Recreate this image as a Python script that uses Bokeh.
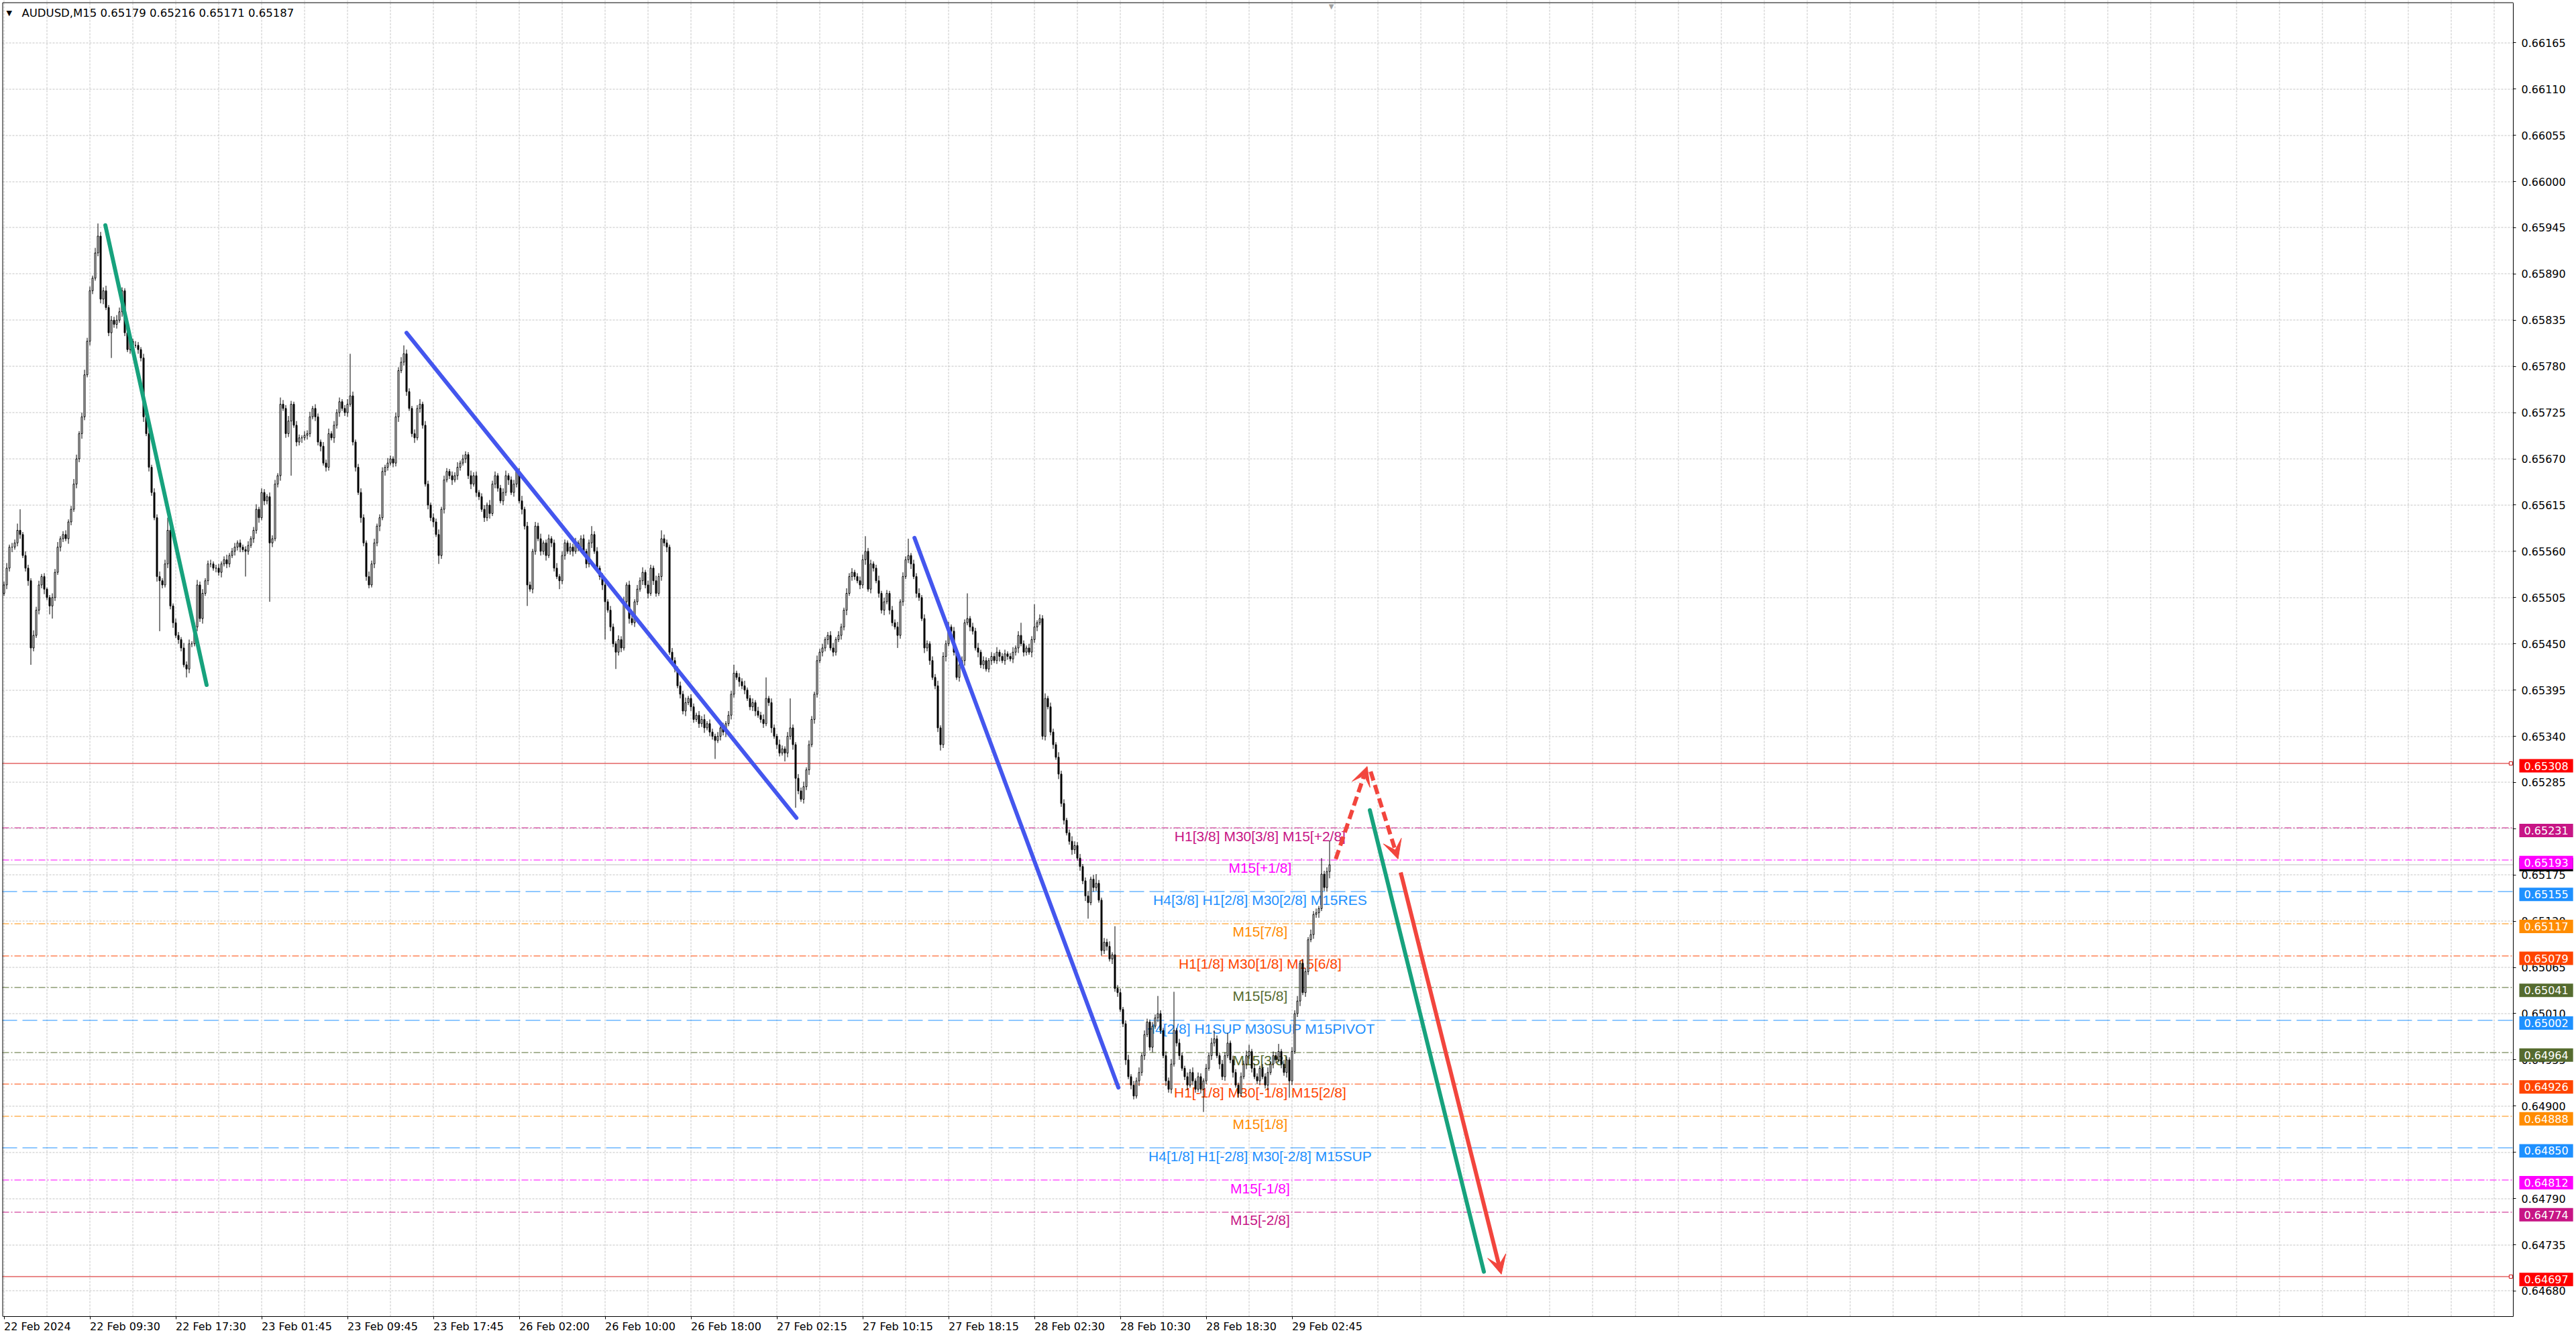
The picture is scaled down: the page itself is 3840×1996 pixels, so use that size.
import numpy as np
from bokeh.plotting import figure
from bokeh.models import Range1d, FixedTicker, PrintfTickFormatter, Label, Arrow, VeeHead, LinearAxis
from bokeh.core.properties import value
from bokeh.embed import file_html
from bokeh.resources import INLINE

# ---------------- data ----------------
header_text = "AUDUSD,M15  0.65179 0.65216 0.65171 0.65187"

# prices in points: 0.6 + v/1e5
first_open = 5510
closes = [
    5520, 5540, 5565, 5565, 5570, 5585, 5580, 5555, 5540, 5525,
    5445, 5460, 5490, 5520, 5530, 5515, 5505, 5495, 5505, 5535,
    5565, 5575, 5580, 5575, 5595, 5610, 5640, 5670, 5700, 5720,
    5770, 5810, 5870, 5885, 5915, 5935, 5860, 5870, 5850, 5820,
    5835, 5830, 5835, 5845, 5870, 5820, 5800, 5810, 5805, 5805,
    5800, 5790, 5720, 5700, 5660, 5630, 5600, 5530, 5525, 5520,
    5545, 5585, 5495, 5475, 5460, 5455, 5445, 5425, 5420, 5450,
    5450, 5470, 5520, 5480, 5510, 5525, 5545, 5545, 5540, 5540,
    5535, 5545, 5550, 5545, 5555, 5560, 5565, 5570, 5565, 5562,
    5560, 5567, 5575, 5585, 5610, 5600, 5630, 5620, 5625, 5570,
    5575, 5640, 5650, 5735, 5730, 5700, 5715, 5735, 5710, 5690,
    5695, 5695, 5698, 5700, 5720, 5730, 5720, 5690, 5685, 5665,
    5660, 5700, 5695, 5710, 5725, 5738, 5730, 5725, 5735, 5745,
    5690, 5660, 5630, 5600, 5570, 5530, 5520, 5545, 5570, 5590,
    5600, 5655, 5660, 5665, 5670, 5665, 5720, 5775, 5785, 5795,
    5750, 5730, 5700, 5695, 5730, 5735, 5710, 5640, 5615, 5600,
    5595, 5580, 5555, 5610, 5645, 5655, 5650, 5645, 5650, 5660,
    5665, 5670, 5675, 5650, 5640, 5650, 5630, 5625, 5610, 5600,
    5615, 5605, 5640, 5650, 5635, 5620, 5630, 5650, 5645, 5630,
    5640, 5655, 5620, 5610, 5590, 5520, 5515, 5560, 5590, 5575,
    5560, 5570, 5555, 5575, 5570, 5540, 5530, 5525, 5555, 5570,
    5560, 5565, 5560, 5570, 5565, 5575, 5560, 5545, 5570, 5580,
    5560, 5540, 5530, 5520, 5500, 5490, 5470, 5450, 5440, 5455,
    5445, 5500, 5520, 5480, 5475, 5500, 5515, 5525, 5535, 5520,
    5510, 5540, 5525, 5510, 5530, 5575, 5570, 5565, 5440, 5430,
    5420, 5400, 5390, 5370, 5380, 5385, 5375, 5360, 5365, 5355,
    5360, 5350, 5355, 5345, 5340, 5335, 5340, 5350, 5345, 5355,
    5365, 5390, 5415, 5410, 5405, 5400, 5395, 5385, 5375, 5380,
    5370, 5365, 5360, 5355, 5385, 5380, 5350, 5340, 5330, 5320,
    5325, 5320, 5340, 5350, 5330, 5290, 5275, 5265, 5280, 5300,
    5330, 5360, 5390, 5430, 5440, 5445, 5455, 5460, 5445, 5440,
    5455, 5460, 5470, 5490, 5510, 5530, 5535, 5530, 5525, 5520,
    5550, 5560, 5515, 5545, 5540, 5525, 5510, 5490, 5500, 5510,
    5490, 5475, 5470, 5460, 5500, 5530, 5550, 5555, 5545, 5530,
    5510, 5505, 5480, 5445, 5450, 5430, 5410, 5400, 5350, 5330,
    5435, 5450, 5470, 5465, 5440, 5410, 5425, 5430, 5475, 5480,
    5470, 5465, 5445, 5440, 5425, 5430, 5420, 5430, 5435, 5430,
    5440, 5435, 5430, 5438, 5435, 5432, 5440, 5445, 5460, 5450,
    5440, 5445, 5440, 5455, 5470, 5475, 5480, 5340, 5385, 5375,
    5345, 5330, 5315, 5295, 5260, 5240, 5225, 5215, 5205, 5210,
    5195, 5185, 5168, 5150, 5142, 5170, 5160, 5165, 5145, 5085,
    5095, 5090, 5075, 5080, 5040, 5035, 5015, 4998, 4955, 4935,
    4925, 4912, 4930, 4940, 4960, 4985, 5000, 4970, 4995, 5005,
    5010, 4990, 4960, 4930, 4920, 4950, 4990, 4975, 4960, 4945,
    4935, 4925, 4940, 4930, 4920, 4935, 4920, 4930, 4945, 4960,
    4975, 4980, 4960, 4950, 4935, 4960, 4975, 4955, 4940, 4925,
    4915, 4935, 4950, 4960, 4965, 4945, 4935, 4930, 4945, 4935,
    4925, 4940, 4950, 4960, 4955, 4965, 4950, 4940, 4955, 4930,
    4965, 5010, 5025, 5070, 5035, 5060, 5098, 5104, 5128, 5130,
    5135, 5176, 5160, 5179, 5187,
]
upper_wick = [
    4, 6, 3, 5, 4, 8, 25, 3, 5, 4,
    3, 6, 4, 5, 3, 4, 2, 3, 5, 4,
    6, 3, 4, 5, 3, 4, 6, 5, 3, 5,
    6, 4, 5, 3, 6, 15, 5, 4, 6, 3,
    5, 4, 6, 5, 4, 3, 5, 4, 3, 5,
    4, 3, 5, 6, 4, 3, 5, 4, 6, 3,
    5, 15, 4, 3, 5, 4, 3, 6, 4, 5,
    3, 5, 6, 4, 5, 3, 4, 5, 3, 4,
    5, 3, 4, 6, 3, 4, 5, 3, 4, 3,
    4, 5, 3, 4, 6, 3, 5, 4, 3, 5,
    4, 5, 3, 8, 5, 4, 6, 4, 3, 5,
    4, 3, 5, 4, 6, 3, 5, 4, 3, 5,
    4, 6, 3, 5, 4, 5, 3, 4, 6, 50,
    5, 3, 4, 5, 4, 3, 6, 4, 5, 3,
    4, 5, 3, 6, 4, 3, 5, 4, 6, 10,
    5, 4, 3, 5, 4, 6, 3, 5, 4, 3,
    5, 4, 6, 3, 5, 4, 3, 5, 4, 6,
    3, 5, 4, 3, 6, 4, 5, 3, 4, 5,
    3, 6, 4, 5, 3, 4, 5, 6, 3, 4,
    5, 3, 4, 6, 3, 5, 4, 3, 5, 4,
    6, 3, 4, 5, 3, 4, 6, 3, 5, 4,
    3, 5, 4, 6, 3, 4, 5, 3, 4, 10,
    4, 5, 3, 4, 6, 3, 5, 4, 3, 5,
    4, 6, 3, 5, 4, 3, 5, 4, 6, 3,
    5, 4, 3, 6, 4, 10, 5, 4, 3, 5,
    4, 3, 5, 4, 6, 3, 5, 4, 3, 5,
    4, 6, 3, 5, 4, 3, 5, 4, 6, 3,
    5, 4, 10, 3, 5, 4, 6, 3, 4, 5,
    3, 5, 4, 6, 25, 3, 5, 4, 3, 6,
    4, 3, 5, 35, 4, 3, 5, 4, 6, 3,
    5, 4, 3, 6, 4, 5, 3, 4, 5, 6,
    3, 5, 4, 3, 6, 4, 5, 3, 4, 5,
    6, 18, 4, 5, 3, 4, 6, 3, 5, 4,
    3, 5, 4, 6, 3, 5, 4, 20, 3, 5,
    4, 6, 3, 5, 4, 3, 5, 4, 6, 3,
    5, 4, 6, 3, 5, 4, 3, 5, 4, 30,
    3, 5, 4, 6, 3, 5, 4, 3, 5, 4,
    6, 3, 4, 5, 3, 4, 6, 3, 5, 15,
    4, 3, 5, 4, 27, 3, 5, 4, 6, 3,
    5, 4, 3, 6, 4, 5, 3, 4, 6, 5,
    4, 5, 3, 4, 6, 3, 5, 11, 4, 3,
    5, 4, 6, 3, 34, 4, 5, 3, 4, 6,
    3, 5, 4, 6, 3, 5, 4, 3, 5, 4,
    21, 4, 3, 5, 4, 6, 46, 3, 5, 4,
    3, 5, 4, 6, 3, 5, 4, 3, 5, 4,
    6, 10, 4, 3, 5, 4, 12, 3, 5, 4,
    3, 5, 4, 6, 8, 3, 5, 4, 3, 5,
    4, 6, 3, 5, 4, 9, 3, 5, 4, 3,
    5, 4, 6, 3, 5, 4, 3, 6, 4, 5,
    3, 19, 4, 5, 29,
]
lower_wick = [
    3, 5, 4, 6, 3, 4, 5, 3, 4, 6,
    20, 4, 3, 5, 4, 6, 3, 10, 15, 4,
    3, 5, 4, 3, 6, 4, 3, 5, 4, 6,
    4, 3, 5, 4, 3, 4, 5, 6, 3, 4,
    30, 4, 5, 3, 6, 4, 3, 5, 4, 3,
    5, 4, 6, 3, 5, 4, 3, 6, 60, 4,
    3, 5, 4, 6, 3, 5, 4, 3, 10, 5,
    4, 3, 5, 4, 6, 3, 5, 4, 3, 5,
    4, 6, 3, 5, 4, 3, 5, 4, 6, 3,
    30, 4, 3, 5, 4, 6, 3, 5, 4, 70,
    5, 3, 4, 6, 3, 5, 4, 65, 3, 5,
    4, 6, 3, 5, 4, 3, 5, 4, 6, 3,
    5, 4, 3, 6, 4, 5, 3, 4, 5, 3,
    4, 5, 3, 6, 4, 5, 4, 3, 5, 4,
    6, 3, 5, 4, 3, 5, 4, 6, 3, 4,
    5, 3, 4, 6, 3, 5, 4, 3, 5, 4,
    6, 3, 10, 4, 5, 3, 4, 6, 3, 5,
    4, 3, 5, 4, 6, 3, 5, 4, 3, 5,
    4, 6, 3, 5, 4, 3, 5, 4, 6, 3,
    5, 4, 3, 6, 4, 25, 3, 5, 4, 3,
    5, 4, 6, 3, 5, 4, 3, 10, 4, 5,
    3, 4, 6, 3, 5, 4, 3, 5, 4, 6,
    3, 5, 4, 6, 45, 3, 5, 4, 20, 4,
    5, 3, 4, 6, 3, 5, 4, 3, 5, 4,
    6, 3, 5, 4, 3, 5, 4, 6, 3, 5,
    4, 3, 5, 4, 6, 3, 5, 4, 3, 5,
    4, 6, 3, 5, 4, 22, 3, 5, 4, 6,
    3, 5, 4, 3, 6, 4, 5, 3, 4, 5,
    6, 3, 4, 5, 3, 4, 6, 3, 5, 4,
    3, 10, 5, 4, 6, 35, 4, 3, 5, 4,
    6, 3, 5, 4, 3, 5, 4, 6, 3, 5,
    4, 3, 5, 4, 6, 3, 5, 4, 3, 5,
    4, 6, 3, 5, 4, 3, 5, 4, 6, 3,
    5, 4, 3, 15, 4, 5, 3, 4, 6, 3,
    5, 4, 3, 6, 4, 5, 3, 4, 5, 7,
    4, 6, 3, 5, 4, 3, 5, 4, 6, 3,
    5, 4, 3, 6, 4, 5, 3, 4, 5, 3,
    4, 6, 3, 5, 4, 3, 5, 4, 6, 3,
    5, 4, 3, 6, 4, 5, 3, 4, 5, 3,
    4, 5, 3, 6, 4, 5, 3, 4, 6, 5,
    3, 5, 4, 6, 19, 3, 5, 4, 3, 6,
    4, 5, 3, 6, 4, 5, 3, 4, 6, 3,
    5, 4, 3, 6, 4, 5, 3, 4, 6, 3,
    5, 4, 3, 6, 4, 5, 3, 4, 5, 3,
    4, 6, 3, 5, 4, 3, 5, 27, 4, 3,
    5, 4, 3, 6, 4, 5, 3, 4, 6, 3,
    5, 4, 3, 6, 4, 5, 3, 4, 5, 3,
    4, 6, 3, 5, 4, 3, 5, 4, 6, 20,
    5, 3, 4, 6, 3, 5, 4, 3, 5, 4,
    6, 3, 4, 5, 8,
]

price_ticks = [0.66165, 0.66110, 0.66055, 0.66000, 0.65945, 0.65890, 0.65835,
               0.65780, 0.65725, 0.65670, 0.65615, 0.65560, 0.65505, 0.65450,
               0.65395, 0.65340, 0.65285, 0.65230, 0.65175, 0.65120, 0.65065,
               0.65010, 0.64955, 0.64900, 0.64845, 0.64790, 0.64735, 0.64680]

date_labels = ["22 Feb 2024", "22 Feb 09:30", "22 Feb 17:30", "23 Feb 01:45",
               "23 Feb 09:45", "23 Feb 17:45", "26 Feb 02:00", "26 Feb 10:00",
               "26 Feb 18:00", "27 Feb 02:15", "27 Feb 10:15", "27 Feb 18:15",
               "28 Feb 02:30", "28 Feb 10:30", "28 Feb 18:30", "29 Feb 02:45"]
date_bars = [0, 32, 64, 96, 128, 160, 192, 224, 256, 288, 320, 352, 384, 416, 448, 480]

levels = [0.65308, 0.65231, 0.65193, 0.65155, 0.65117, 0.65079, 0.65041, 0.65002,
          0.64964, 0.64926, 0.64888, 0.64850, 0.64812, 0.64774, 0.64697]
level_texts = ["", "H1[3/8] M30[3/8] M15[+2/8]", "M15[+1/8]",
               "H4[3/8] H1[2/8] M30[2/8] M15RES", "M15[7/8]",
               "H1[1/8] M30[1/8] M15[6/8]", "M15[5/8]",
               "H4[2/8] H1SUP M30SUP M15PIVOT", "M15[3/8]",
               "H1[-1/8] M30[-1/8] M15[2/8]", "M15[1/8]",
               "H4[1/8] H1[-2/8] M30[-2/8] M15SUP", "M15[-1/8]", "M15[-2/8]", ""]
bid_price = 0.65187

# trend lines (bar index, price)
trend_x0 = [37.75, 150.0, 339.3, 509.0]
trend_p0 = [0.65948, 0.65820, 0.65576, 0.65252]
trend_x1 = [75.5, 295.3, 415.3, 551.5]
trend_p1 = [0.65401, 0.65243, 0.64922, 0.64703]

# forecast arrows (bar index, price)
arrow_x0 = [496.3, 509.3, 520.5]
arrow_p0 = [0.65194, 0.65298, 0.65178]
arrow_x1 = [508.0, 519.5, 558.0]
arrow_p1 = [0.65304, 0.65194, 0.64700]

# ---------------- styles / layout ----------------
RED_BOX = "#FF0000"
level_line_colors = ["#d41414", "#C71585", "#FF00FF", "#1E90FF", "#FF8C00", "#FF4500",
                     "#556B2F", "#1E90FF", "#556B2F", "#FF4500", "#FF8C00", "#1E90FF",
                     "#FF00FF", "#C71585", "#d41414"]
level_box_colors = [RED_BOX, "#C71585", "#FF00FF", "#1E90FF", "#FF8C00", "#FF4500",
                    "#556B2F", "#1E90FF", "#556B2F", "#FF4500", "#FF8C00", "#1E90FF",
                    "#FF00FF", "#C71585", RED_BOX]
DASHDOT = "10 3 2 3"
LONGDASH = "22 8"
level_dashes = ["solid", DASHDOT, DASHDOT, LONGDASH, DASHDOT, DASHDOT, DASHDOT, LONGDASH,
                DASHDOT, DASHDOT, DASHDOT, LONGDASH, DASHDOT, DASHDOT, "solid"]
trend_colors = ["#17A27D", "#4456EE", "#4456EE", "#17A27D"]
ARROW_RED = "#F2453D"
arrow_dashes = ["14 7", "14 7", "solid"]
GRID_COLOR = "#c4c4c4"
AXIS_FONT = "DejaVu Sans"

W, H = 3836, 1992
PX_PER_BAR = 4.0
PX_PER_PRICE = 125300.0
X0 = -1.375                     # bar at the left edge of the canvas
X_END = X0 + W / PX_PER_BAR
AXIS_PX_X = 3746                # price scale line, px from the canvas left
AXIS_PX_Y = 30                  # time scale line, px above the canvas bottom
X_AXIS = X0 + AXIS_PX_X / PX_PER_BAR
Y_TOP = 0.662155
Y_BOT = Y_TOP - H / PX_PER_PRICE
Y_AXIS = Y_BOT + AXIS_PX_Y / PX_PER_PRICE
px_x = 1.0 / PX_PER_BAR
px_y = 1.0 / PX_PER_PRICE


def crisp(price):
    """Move a 1px horizontal line onto a pixel centre so it is drawn sharp."""
    k = round((Y_TOP - price) * PX_PER_PRICE - 0.5)
    return Y_TOP - (k + 0.5) / PX_PER_PRICE


p = figure(width=W, height=H, output_backend="svg", toolbar_location=None,
           x_range=Range1d(X0, X_END), y_range=Range1d(Y_BOT, Y_TOP),
           x_axis_location=None, y_axis_location=None,
           min_border_left=0, min_border_top=0, min_border_right=0, min_border_bottom=0)
p.background_fill_color = "white"
p.border_fill_color = "white"
p.outline_line_color = None
p.grid.visible = False

# grid (dotted, only inside the chart window)
grid_x = list(range(0, int(X_AXIS), 16))
p.segment(x0=grid_x, y0=[Y_AXIS] * len(grid_x), x1=grid_x, y1=[Y_TOP] * len(grid_x),
          line_color=GRID_COLOR, line_dash="3 2", line_width=1, level="underlay")
grid_y = [crisp(t) for t in price_ticks]
p.segment(x0=[X0 + 3 * px_x] * len(grid_y), y0=grid_y,
          x1=[X_AXIS] * len(grid_y), y1=grid_y, line_color=GRID_COLOR,
          line_dash="3 2", line_width=1, level="underlay")

# chart window border (left / top)
p.segment(x0=[X0 + 3.5 * px_x, X0 + 3.5 * px_x], y0=[Y_AXIS, Y_TOP - 3.5 * px_y],
          x1=[X0 + 3.5 * px_x, X_AXIS], y1=[Y_TOP - 3.5 * px_y, Y_TOP - 3.5 * px_y],
          line_color="black", line_width=1)

# price scale (library axis at a fixed position)
yax = LinearAxis(fixed_location=X_AXIS, ticker=FixedTicker(ticks=price_ticks),
                 formatter=PrintfTickFormatter(format="%.5f"),
                 bounds=(Y_AXIS, Y_TOP - 3.5 * px_y))
yax.major_label_text_font = AXIS_FONT
yax.major_label_text_font_size = "16px"
yax.major_label_text_color = "black"
yax.major_tick_in = 0
yax.major_tick_out = 4
yax.minor_tick_in = 0
yax.minor_tick_out = 0
yax.major_label_standoff = 8
yax.axis_line_color = "black"
yax.major_tick_line_color = "black"
p.add_layout(yax, "right")

# time scale (library axis at a fixed position; labels drawn left-aligned below)
xax = LinearAxis(fixed_location=Y_AXIS, ticker=FixedTicker(ticks=date_bars),
                 bounds=(X0 + 3.5 * px_x, X_AXIS))
xax.major_label_text_font_size = "0px"
xax.major_label_standoff = 0
xax.major_tick_in = 0
xax.major_tick_out = 4
xax.minor_tick_in = 0
xax.minor_tick_out = 0
xax.axis_line_color = "black"
xax.major_tick_line_color = "black"
p.add_layout(xax, "below")

# level lines
for lv, col, dash in zip(levels, level_line_colors, level_dashes):
    p.segment(x0=[X0 + 3 * px_x], y0=[crisp(lv)], x1=[X_AXIS], y1=[crisp(lv)],
              line_color=col, line_dash=dash, line_width=1, level="underlay")
p.segment(x0=[X0 + 3 * px_x], y0=[crisp(bid_price)], x1=[X_AXIS], y1=[crisp(bid_price)],
          line_color="#c0c0c0", line_width=1, level="underlay")
p.scatter(x=[X_AXIS - 0.9, X_AXIS - 0.9], y=[crisp(levels[0]), crisp(levels[-1])],
          marker="square", size=5, fill_color="white", line_color="#d41414", line_width=1)

# level texts
TEXT_BAR = 468.1
txt_idx = [i for i, t in enumerate(level_texts) if t]
p.text(x=[TEXT_BAR] * len(txt_idx), y=[levels[i] for i in txt_idx],
       text=[level_texts[i] for i in txt_idx],
       text_color=[level_line_colors[i] for i in txt_idx],
       text_font=value("Liberation Sans"), text_font_size="21px",
       text_align="center", text_baseline="middle", y_offset=12, level="underlay")

# candles
n = len(closes)
opens = [first_open] + closes[:-1]
O = 0.6 + np.array(opens) / 1e5
C = 0.6 + np.array(closes) / 1e5
Hh = np.maximum(O, C) + np.array(upper_wick) / 1e5
Ll = np.minimum(O, C) - np.array(lower_wick) / 1e5
bars = np.arange(n)
bull = C >= O
p.segment(x0=bars, y0=Hh, x1=bars, y1=Ll, line_color="black", line_width=1)
p.vbar(x=bars[bull], top=C[bull], bottom=O[bull], width=0.5,
       fill_color="white", line_color="black", line_width=1)
p.vbar(x=bars[~bull], top=O[~bull], bottom=C[~bull], width=0.5,
       fill_color="black", line_color="black", line_width=1)

# trend lines
p.segment(x0=trend_x0, y0=trend_p0, x1=trend_x1, y1=trend_p1,
          line_color=trend_colors, line_width=6, line_cap="round")

# forecast arrows
for xs, ys, xe, ye, dash in zip(arrow_x0, arrow_p0, arrow_x1, arrow_p1, arrow_dashes):
    p.add_layout(Arrow(x_start=xs, y_start=ys, x_end=xe, y_end=ye,
                       line_color=ARROW_RED, line_width=6, line_dash=dash,
                       end=VeeHead(size=28, fill_color=ARROW_RED, line_color=ARROW_RED,
                                   line_width=1)))

# price boxes on the right scale
PADX, PADY = 7, 4
BOX_X = AXIS_PX_X + 2 + PADX
BOX_PAD = dict(x=PADX, y=PADY)
p.add_layout(Label(x=BOX_X, y=levels[2], x_units="screen", y_units="data",
                   text=f"{bid_price:.5f}", text_font=AXIS_FONT, text_font_size="16px",
                   text_color="white", text_baseline="middle", text_align="left",
                   background_fill_color="black", padding=BOX_PAD, y_offset=-7))
order = [0, 1, 3, 4, 5, 6, 7, 8, 9, 10, 11, 12, 13, 14, 2]
for i in order:
    p.add_layout(Label(x=BOX_X, y=levels[i], x_units="screen", y_units="data",
                       text=f"{levels[i]:.5f}", text_font=AXIS_FONT,
                       text_font_size="16px", text_color="white",
                       text_baseline="middle", text_align="left",
                       background_fill_color=level_box_colors[i], padding=BOX_PAD,
                       y_offset=-4))

# date labels under the time scale
for b, t in zip(date_bars, date_labels):
    p.add_layout(Label(x=b, y=Y_AXIS, x_units="data", y_units="data", text=t,
                       text_font=AXIS_FONT, text_font_size="16px", text_color="black",
                       text_align="left", text_baseline="top", y_offset=-5))

# header
p.add_layout(Label(x=9, y=H - 19, x_units="screen", y_units="screen", text="\u25BC",
                   text_font=AXIS_FONT, text_font_size="11px", text_color="black",
                   text_baseline="middle"))
p.add_layout(Label(x=32, y=H - 19, x_units="screen", y_units="screen", text=header_text,
                   text_font=AXIS_FONT, text_font_size="16.5px", text_color="black",
                   text_baseline="middle"))
# chart-shift marker
p.add_layout(Label(x=1984, y=H - 3, x_units="screen", y_units="screen", text="\u25BC",
                   text_font=AXIS_FONT, text_font_size="10px", text_color="#a0a0a0",
                   text_align="center", text_baseline="top"))

open("out.html", "w").write(file_html(p, INLINE))
